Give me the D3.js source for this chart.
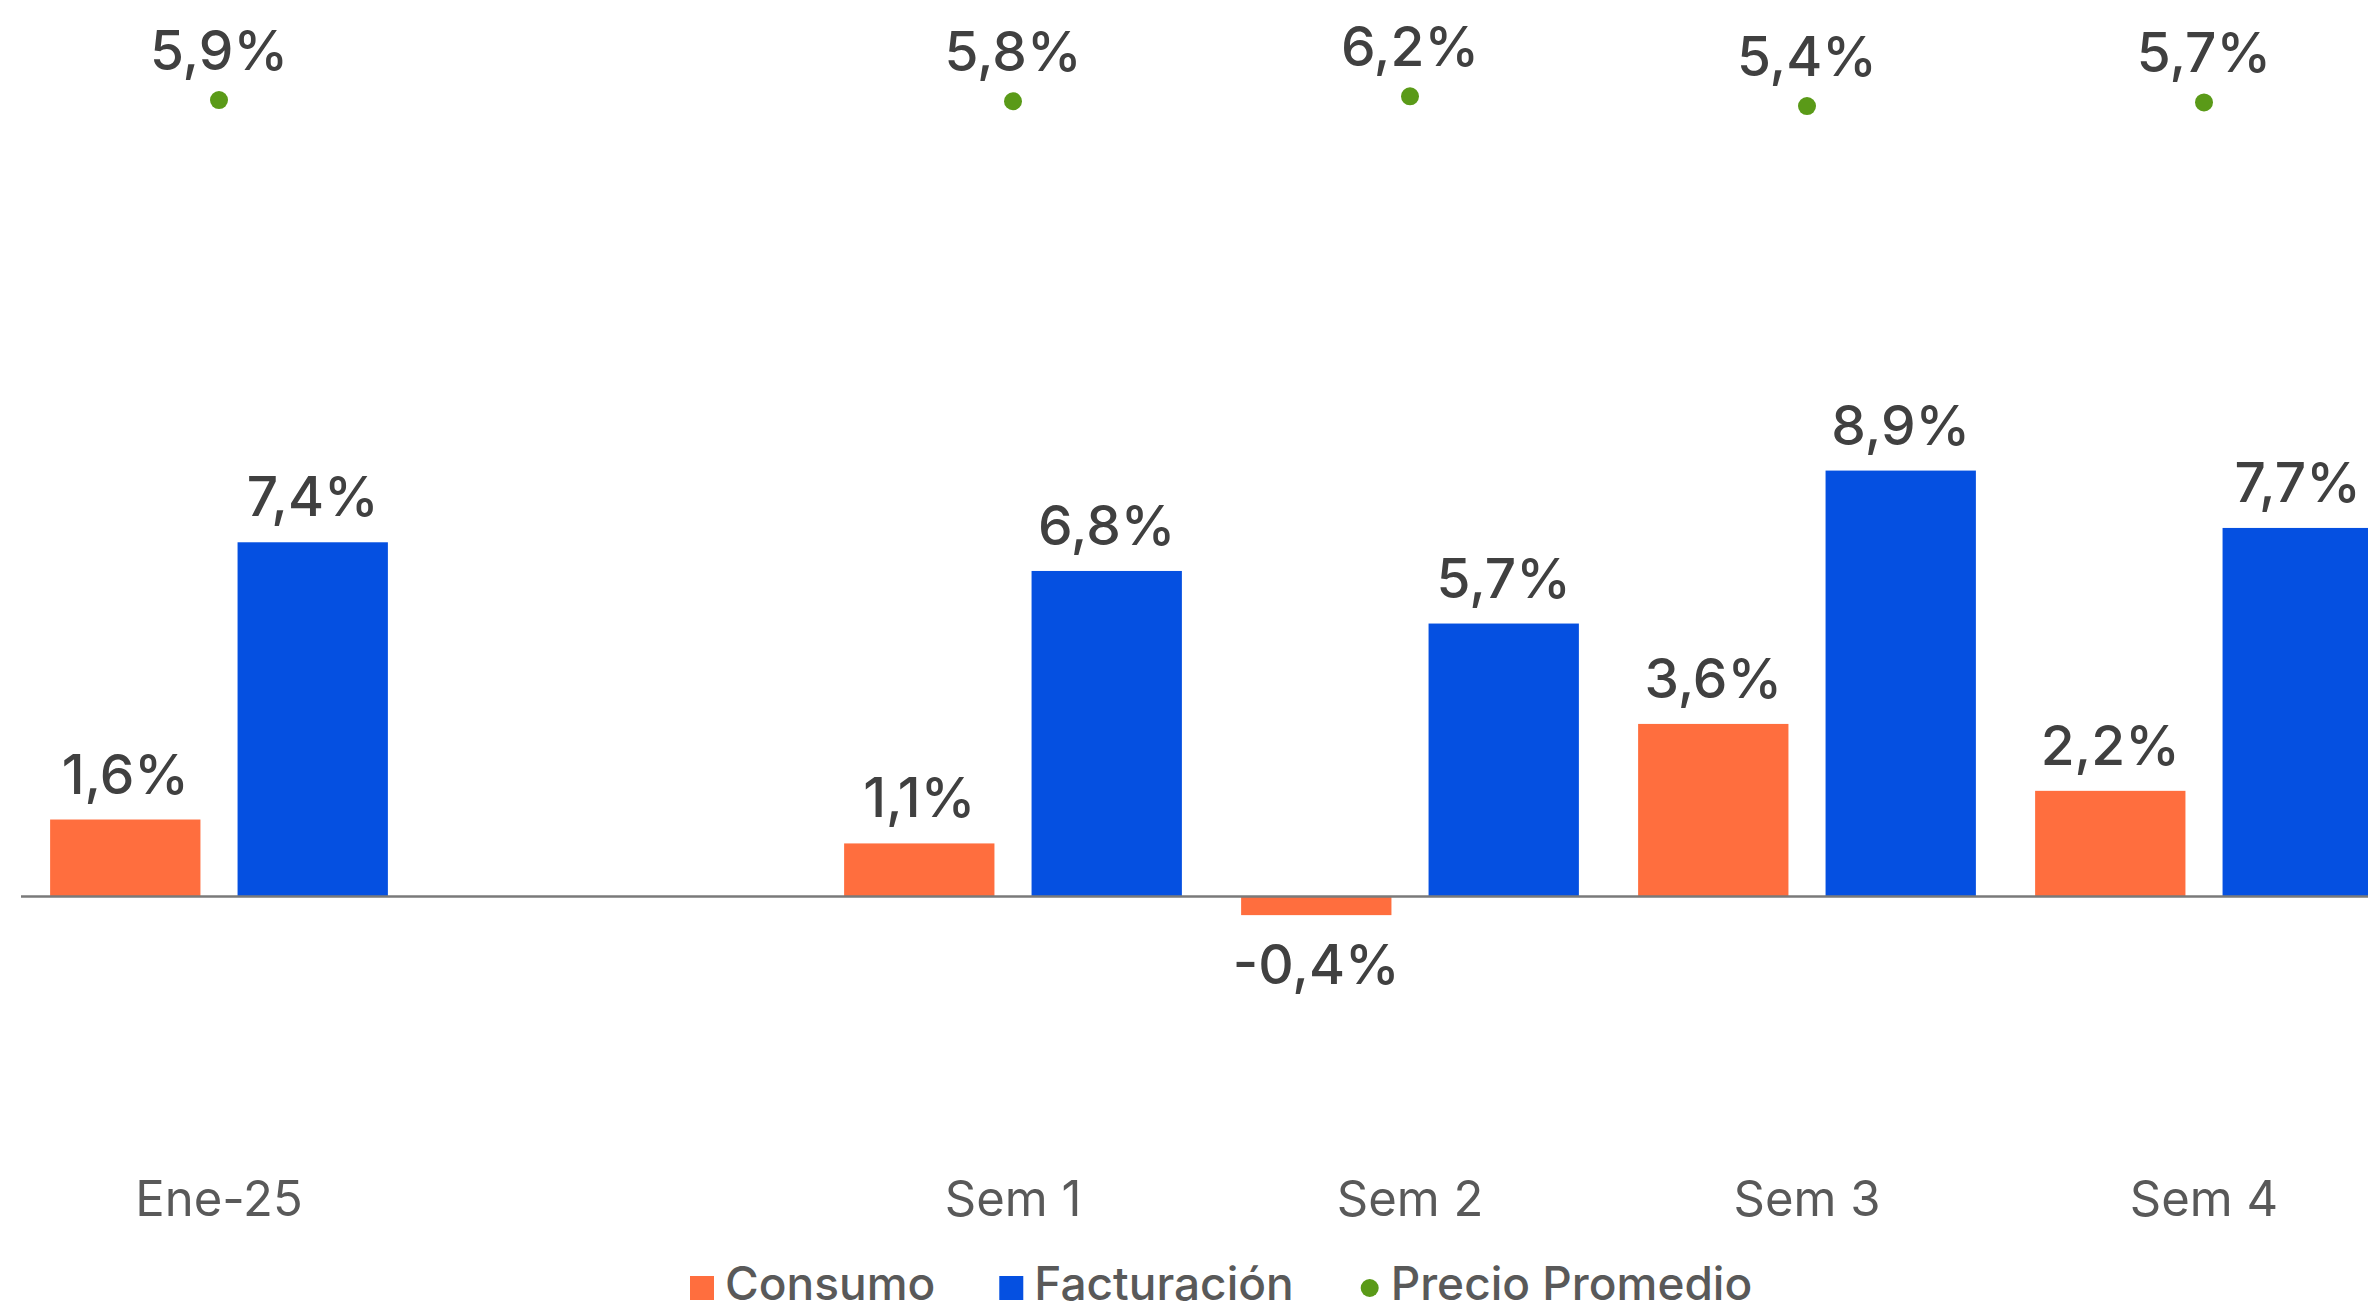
<!DOCTYPE html>
<html>
<head>
<meta charset="utf-8">
<script src="https://cdn.jsdelivr.net/npm/d3@7"></script>
<style>
  body { margin: 0; background: #fff; }
  svg { display: block; font-family: Inter, "Open Sans", sans-serif; }
</style>
</head>
<body>
<svg></svg>
<script>
const W = 2368;
const H = 1314;

// data
const categories = ["Ene-25", "", "Sem 1", "Sem 2", "Sem 3", "Sem 4"];
const consumo = [1.6, null, 1.1, -0.4, 3.6, 2.2];
const facturacion = [7.4, null, 6.8, 5.7, 8.9, 7.7];
const precio = [5.9, null, 5.8, 6.2, 5.4, 5.7];
const seriesNames = ["Consumo", "Facturación", "Precio Promedio"];
const colors = ["#FF6E3E", "#0550E1", "#5A9A18"];

const svg = d3.select("svg")
    .attr("width", W)
    .attr("height", H);

const locale = d3.formatLocale({decimal: ",", thousands: ".", grouping: [3], currency: ["", "€"], minus: "-"});
const fmt = v => locale.format(".1f")(v) + "%";

const x = d3.scaleBand()
    .domain(categories)
    .range([20.5, 2402.5])
    .padding(0);

const xInner = d3.scaleBand()
    .domain(["Consumo", "Facturación"])
    .range([0, x.bandwidth()])
    .paddingInner(0.198)
    .paddingOuter(0.158);

const y = d3.scaleLinear()
    .domain([0, 10])
    .range([896, 418]);

// secondary axis for precio
const y2 = d3.scaleLinear()
    .domain([0, 10])
    .range([172, 50]);

const rows = categories.map((c, i) => ({cat: c, consumo: consumo[i], facturacion: facturacion[i], precio: precio[i]}));

const bars = [];
rows.forEach(function(r) {
  if (r.consumo != null) bars.push({cat: r.cat, key: "Consumo", v: r.consumo, color: colors[0]});
  if (r.facturacion != null) bars.push({cat: r.cat, key: "Facturación", v: r.facturacion, color: colors[1]});
});

svg.selectAll(".bar")
    .data(bars)
    .enter().append("rect")
    .attr("class", "bar")
    .attr("x", d => x(d.cat) + xInner(d.key))
    .attr("width", xInner.bandwidth())
    .attr("y", d => Math.min(y(d.v), y(0)))
    .attr("height", d => Math.abs(y(d.v) - y(0)))
    .attr("fill", d => d.color);

// zero line
svg.append("g")
    .attr("transform", `translate(0, ${y(0)})`)
    .call(d3.axisBottom(x).tickSize(0).tickFormat(""))
    .call(g => g.select(".domain").attr("stroke", "#7a7a7a").attr("stroke-width", 2.5));

// category labels
svg.append("g")
    .attr("transform", "translate(0, 1216)")
    .call(d3.axisBottom(x).tickSize(0).tickPadding(0))
    .call(g => g.select(".domain").remove())
    .call(g => g.selectAll("text")
        .attr("dy", 0)
        .attr("y", 0)
        .attr("font-family", "Inter, 'Open Sans', sans-serif")
        .attr("font-size", 49)
        .attr("fill", "#595959"));

// bar value labels
svg.selectAll(".barlabel")
    .data(bars)
    .enter().append("text")
    .attr("class", "barlabel")
    .attr("x", d => x(d.cat) + xInner(d.key) + xInner.bandwidth() / 2)
    .attr("y", d => d.v >= 0 ? y(d.v) - 26 : y(d.v) + 69)
    .attr("text-anchor", "middle")
    .attr("font-size", 55)
    .attr("font-weight", 500)
    .attr("fill", "#404040")
    .text(d => fmt(d.v));

// precio dots
const dots = rows.filter(r => r.precio != null);

svg.selectAll(".dot")
    .data(dots)
    .enter().append("circle")
    .attr("class", "dot")
    .attr("cx", d => x(d.cat) + x.bandwidth() / 2)
    .attr("cy", d => y2(d.precio))
    .attr("r", 9)
    .attr("fill", colors[2]);

svg.selectAll(".dotlabel")
    .data(dots)
    .enter().append("text")
    .attr("class", "dotlabel")
    .attr("x", d => x(d.cat) + x.bandwidth() / 2)
    .attr("y", d => y2(d.precio) - 30)
    .attr("text-anchor", "middle")
    .attr("font-size", 55)
    .attr("font-weight", 500)
    .attr("fill", "#404040")
    .text(d => fmt(d.precio));

// legend
const legend = svg.append("g").attr("transform", "translate(690, 1288)");
let lx = 0;
seriesNames.forEach(function(name, i) {
  const item = legend.append("g").attr("transform", `translate(${lx}, 0)`);
  if (i < 2) {
    item.append("rect").attr("x", 0).attr("y", -12).attr("width", 24).attr("height", 24).attr("fill", colors[i]);
  } else {
    item.append("circle").attr("cx", 12).attr("cy", 0).attr("r", 9).attr("fill", colors[i]);
  }
  const t = item.append("text")
      .attr("x", i < 2 ? 35 : 33)
      .attr("y", 12)
      .attr("font-size", 46)
      .attr("font-weight", 500)
      .attr("fill", "#595959")
      .text(name);
  lx += (i < 2 ? 35 : 33) + t.node().getComputedTextLength() + 64;
});
</script>
</body>
</html>
